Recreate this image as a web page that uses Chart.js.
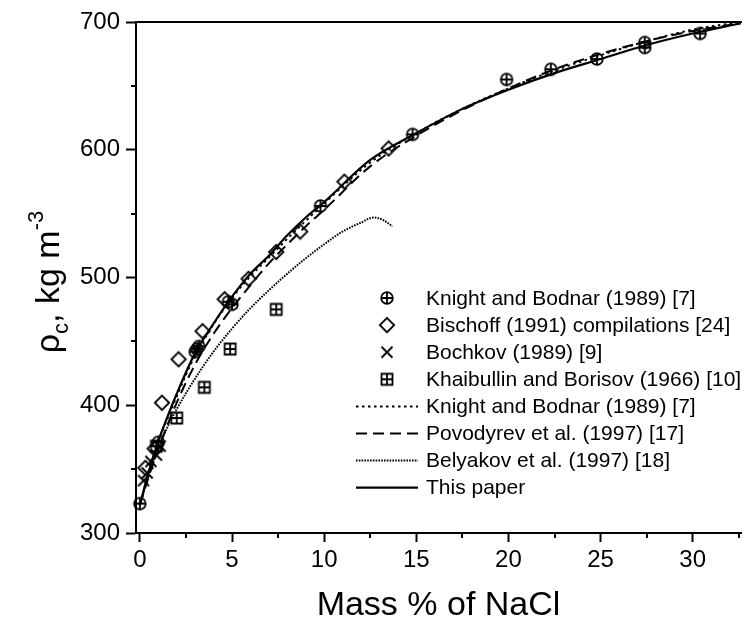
<!DOCTYPE html>
<html>
<head>
<meta charset="utf-8">
<script src="https://cdn.jsdelivr.net/npm/chart.js@4.4.0/dist/chart.umd.min.js"></script>
<style>
  body { margin: 0; background: #fff; }
  #wrap { width: 749px; height: 624px; }
</style>
</head>
<body>
<div id="wrap"><canvas id="myChart"></canvas></div>
<script>
// Measured critical densities
var knightPtsX = [0, 1.0, 3.0, 3.1, 3.2, 4.8, 5.0, 9.8, 14.8, 19.9, 22.3, 24.8, 27.4, 27.4, 30.4];
var knightPtsY = [323, 371, 442, 444, 446, 481, 479, 556, 612, 655, 663, 671, 684, 680, 691];

var bischoffX = [0.3, 0.8, 1.2, 2.1, 3.4, 4.6, 5.9, 7.4, 8.7, 11.1, 13.5];
var bischoffY = [351, 366, 402, 436, 458, 483, 499, 520, 536, 575, 601];

var bochkovX = [0.2, 0.4, 0.6, 0.9, 1.1];
var bochkovY = [341, 347, 356, 361, 368];

var khaibullinX = [0.9, 2.0, 3.5, 4.9, 7.4];
var khaibullinY = [368, 390, 414, 444, 475];

// Correlations
var knightFitX = [0, 0.5, 1, 2, 3, 5, 7.5, 10, 12.5, 15, 17.5, 20, 22.5, 25, 27.5, 30, 32.6];
var knightFitY = [322, 348, 371, 407, 439, 484, 523, 558, 590, 613, 632, 648, 662, 674, 685, 694, 700];

var povodyrevX = [0, 0.5, 1, 2, 3, 4, 5, 6, 7, 8, 9, 10, 12.5, 15, 17.5, 20, 22.5, 25, 27.5, 30, 32.6];
var povodyrevY = [322, 345, 366, 402, 432, 456, 476, 494, 511, 526, 540, 553, 587, 611, 631, 648, 663, 675, 685, 693, 699];

var belyakovX = [0, 0.5, 1, 1.5, 2, 3, 4, 5, 6, 7, 8, 9, 10, 11, 12, 12.7, 13.2, 13.7];
var belyakovY = [322, 346, 366, 383, 397, 421, 442, 460, 476, 490, 503, 515, 526, 536, 543, 547, 545, 540];

var thisPaperX = [0, 0.5, 1, 1.5, 2, 3, 4, 5, 6, 7, 8, 9, 10, 12.5, 15, 17.5, 20, 22.5, 25, 27.5, 30, 32.6];
var thisPaperY = [322, 349, 372, 391, 409, 441, 464, 485, 503, 517, 533, 547, 559, 592, 613, 632, 647, 660, 671, 682, 691, 699];

var xTickVals = [0, 5, 10, 15, 20, 25, 30];
var xMinorVals = [2.5, 7.5, 12.5, 17.5, 22.5, 27.5, 32.5];
var yTickVals = [300, 400, 500, 600, 700];
var yMinorVals = [350, 450, 550, 650];

var FONT = "'Liberation Sans', Arial, sans-serif";

function toXY(xs, ys) {
    var out = [];
    for (var i = 0; i < xs.length; i++) out.push({ x: xs[i], y: ys[i] });
    return out;
}

// symbol images used both on the plot and in the key
function makeMarker(kind) {
    var s = 18;
    var c = document.createElement('canvas');
    c.width = s; c.height = s;
    var g = c.getContext('2d');
    var m = s / 2;
    g.strokeStyle = '#000';
    g.lineWidth = 1.8;
    g.beginPath();
    if (kind === 'circlePlus') {
        g.arc(m, m, 5.8, 0, Math.PI * 2);
        g.moveTo(m - 5.8, m); g.lineTo(m + 5.8, m);
        g.moveTo(m, m - 5.8); g.lineTo(m, m + 5.8);
    } else if (kind === 'diamond') {
        g.moveTo(m, m - 7.2); g.lineTo(m + 7.2, m); g.lineTo(m, m + 7.2); g.lineTo(m - 7.2, m); g.closePath();
    } else if (kind === 'cross') {
        g.moveTo(m - 5.5, m - 5.5); g.lineTo(m + 5.5, m + 5.5);
        g.moveTo(m + 5.5, m - 5.5); g.lineTo(m - 5.5, m + 5.5);
    } else if (kind === 'boxPlus') {
        g.rect(m - 5.5, m - 5.5, 11, 11);
        g.moveTo(m - 5.5, m); g.lineTo(m + 5.5, m);
        g.moveTo(m, m - 5.5); g.lineTo(m, m + 5.5);
    }
    g.stroke();
    return c;
}

function pointSet(label, xs, ys, kind) {
    return {
        label: label,
        data: toXY(xs, ys),
        showLine: false,
        pointStyle: makeMarker(kind),
        pointRadius: 7,
        borderColor: '#000',
        backgroundColor: 'transparent',
        clip: false
    };
}

function lineSet(label, xs, ys, width, dash) {
    return {
        label: label,
        data: toXY(xs, ys),
        showLine: true,
        pointRadius: 0,
        borderColor: '#000',
        borderWidth: width,
        borderDash: dash,
        cubicInterpolationMode: 'monotone',
        fill: false
    };
}

// minor tick marks on both axes
var minorTicks = {
    id: 'minorTicks',
    afterDraw: function (chart) {
        var ctx = chart.ctx, xs = chart.scales.x, ys = chart.scales.y;
        ctx.save();
        ctx.strokeStyle = '#000';
        ctx.lineWidth = 2;
        ctx.beginPath();
        xMinorVals.forEach(function (v) {
            var px = Math.round(xs.getPixelForValue(v));
            if (px > chart.width) return;
            ctx.moveTo(px, ys.bottom);
            ctx.lineTo(px, ys.bottom + 5);
        });
        yMinorVals.forEach(function (v) {
            var py = Math.round(ys.getPixelForValue(v));
            ctx.moveTo(xs.left - 5, py);
            ctx.lineTo(xs.left, py);
        });
        ctx.stroke();
        ctx.restore();
    }
};

// y title with subscript and superscript
var yTitle = {
    id: 'yTitle',
    afterDraw: function (chart) {
        var ctx = chart.ctx;
        var big = '34px ' + FONT, small = '22px ' + FONT;
        var parts = [
            { t: '\u03C1', f: big, dy: 0 },
            { t: 'c', f: small, dy: 9 },
            { t: ',', f: big, dy: 0 },
            { t: ' kg m', f: big, dy: 0 },
            { t: '-3', f: small, dy: -16 }
        ];
        ctx.save();
        var total = 0;
        parts.forEach(function (p) { ctx.font = p.f; p.w = ctx.measureText(p.t).width; total += p.w; });
        ctx.translate(59, 282);
        ctx.rotate(-Math.PI / 2);
        ctx.fillStyle = '#000';
        ctx.textBaseline = 'alphabetic';
        var x = -total / 2;
        parts.forEach(function (p) {
            ctx.font = p.f;
            ctx.fillText(p.t, x, p.dy);
            x += p.w;
        });
        ctx.restore();
    }
};

// key inside the plot area
var keyBox = {
    id: 'keyBox',
    afterDraw: function (chart) {
        var ctx = chart.ctx;
        var x0 = 356, x1 = 418, yTop = 298, step = 27.1;
        ctx.save();
        ctx.font = '21px ' + FONT;
        ctx.fillStyle = '#000';
        ctx.textBaseline = 'middle';
        chart.data.datasets.forEach(function (ds, i) {
            var y = yTop + i * step;
            if (ds.showLine) {
                ctx.save();
                ctx.strokeStyle = '#000';
                ctx.lineWidth = ds.borderWidth;
                ctx.setLineDash(ds.borderDash || []);
                ctx.beginPath();
                ctx.moveTo(x0, y);
                ctx.lineTo(x1, y);
                ctx.stroke();
                ctx.restore();
            } else {
                var img = ds.pointStyle;
                ctx.drawImage(img, (x0 + x1) / 2 - img.width / 2, y - img.height / 2);
            }
            ctx.fillText(ds.label, 426, y + 1);
        });
        ctx.restore();
    }
};

var ctx = document.getElementById('myChart').getContext('2d');
var myChart = new Chart(ctx, {
    type: 'scatter',
    data: {
        datasets: [
            pointSet('Knight and Bodnar (1989) [7]', knightPtsX, knightPtsY, 'circlePlus'),
            pointSet('Bischoff (1991) compilations [24]', bischoffX, bischoffY, 'diamond'),
            pointSet('Bochkov (1989) [9]', bochkovX, bochkovY, 'cross'),
            pointSet('Khaibullin and Borisov (1966) [10]', khaibullinX, khaibullinY, 'boxPlus'),
            lineSet('Knight and Bodnar (1989) [7]', knightFitX, knightFitY, 2, [2.5, 3.5]),
            lineSet('Povodyrev et al. (1997) [17]', povodyrevX, povodyrevY, 2, [11, 6]),
            lineSet('Belyakov et al. (1997) [18]', belyakovX, belyakovY, 2, [1.6, 1.2]),
            lineSet('This paper', thisPaperX, thisPaperY, 2.2, [])
        ]
    },
    options: {
        responsive: true,
        maintainAspectRatio: false,
        animation: false,
        layout: { padding: { top: 22, right: 0, bottom: 0, left: 0 } },
        plugins: {
            legend: { display: false },
            tooltip: { enabled: false }
        },
        scales: {
            x: {
                type: 'linear',
                position: 'bottom',
                min: -0.21,
                max: 32.62,
                afterBuildTicks: function (scale) {
                    scale.ticks = xTickVals.map(function (v) { return { value: v }; });
                },
                afterFit: function (scale) { scale.height = 91; },
                grid: { drawOnChartArea: false, drawTicks: true, tickLength: 9, tickColor: '#000', tickWidth: 2 },
                border: { display: true, color: '#000', width: 2 },
                ticks: { color: '#000', font: { family: FONT, size: 24 }, padding: 4, maxRotation: 0 },
                title: {
                    display: true,
                    text: 'Mass % of NaCl',
                    color: '#000',
                    font: { family: FONT, size: 34 },
                    padding: { top: 0, bottom: -2 }
                }
            },
            x2: {
                type: 'linear',
                position: 'top',
                display: true,
                min: -0.21,
                max: 32.62,
                afterFit: function (scale) { scale.height = 0; },
                grid: { display: false, drawTicks: false },
                border: { display: true, color: '#000', width: 2 },
                ticks: { display: false }
            },
            y: {
                type: 'linear',
                min: 300,
                max: 700,
                afterBuildTicks: function (scale) {
                    scale.ticks = yTickVals.map(function (v) { return { value: v }; });
                },
                afterFit: function (scale) { scale.width = 136; },
                grid: { drawOnChartArea: false, drawTicks: true, tickLength: 10, tickColor: '#000', tickWidth: 2 },
                border: { display: true, color: '#000', width: 2 },
                ticks: { color: '#000', font: { family: FONT, size: 24 }, padding: 6 }
            }
        }
    },
    plugins: [minorTicks, yTitle, keyBox]
});
</script>
</body>
</html>
